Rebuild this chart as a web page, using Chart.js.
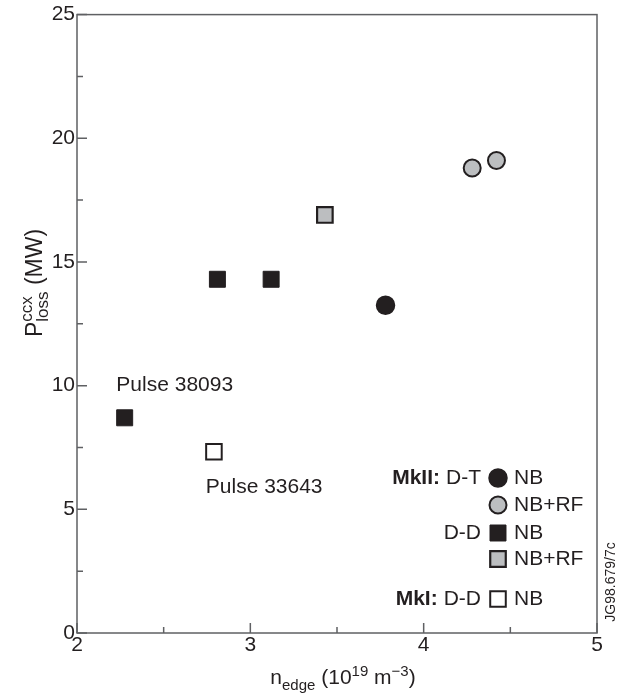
<!DOCTYPE html>
<html>
<head>
<meta charset="utf-8">
<script src="https://cdn.jsdelivr.net/npm/chart.js@4.4.0/dist/chart.umd.min.js"></script>
<style>
  html, body { margin: 0; padding: 0; background: #fff; }
  #wrap { width: 618px; height: 694px; }
</style>
</head>
<body>
<div id="wrap"><canvas id="chart" width="618" height="694"></canvas></div>
<script>
// MkII D-T, NB only
var dtNbX = [3.78];
var dtNbY = [13.25];
// MkII D-T, NB+RF
var dtRfX = [4.28, 4.42];
var dtRfY = [18.8, 19.1];
// MkII D-D, NB only (first one is pulse 38093)
var ddNbX = [2.275, 2.81, 3.12];
var ddNbY = [8.7, 14.3, 14.3];
// MkII D-D, NB+RF
var ddRfX = [3.43];
var ddRfY = [16.9];
// MkI D-D, NB (pulse 33643)
var mk1X = [2.79];
var mk1Y = [7.33];

var xTicks = [2, 3, 4, 5];
var xMinor = [2.5, 3.5, 4.5];
var yTicks = [0, 5, 10, 15, 20, 25];
var yMinor = [2.5, 7.5, 12.5, 17.5, 22.5];

var pulseLabels = ["Pulse 38093", "Pulse 33643"];
var pulseX = [2.227, 2.743];
var pulseY = [9.79, 5.64];

var FONT = "'Liberation Sans', Arial, Helvetica, sans-serif";
var INK = "#231f20";
var GREY = "#bcbec0";
var AXIS = "#5f6063";

function pts(xs, ys) {
  var out = [];
  for (var i = 0; i < xs.length; i++) out.push({ x: xs[i], y: ys[i] });
  return out;
}

// the five marker types
var styles = {
  dtNb: { pointStyle: "circle", radius: 9, fill: INK, border: INK, bw: 1.5 },
  dtRf: { pointStyle: "circle", radius: 8.5, fill: GREY, border: INK, bw: 2 },
  ddNb: { pointStyle: "rect", radius: 11.3, fill: INK, border: INK, bw: 1 },
  ddRf: { pointStyle: "rect", radius: 11, fill: GREY, border: INK, bw: 2.2 },
  mk1: { pointStyle: "rect", radius: 11, fill: "#ffffff", border: INK, bw: 2 }
};

function ds(label, data, st) {
  return {
    label: label,
    data: data,
    pointStyle: st.pointStyle,
    pointRadius: st.radius,
    pointBackgroundColor: st.fill,
    pointBorderColor: st.border,
    pointBorderWidth: st.bw,
    showLine: false
  };
}

function fontStr(p) {
  return (p.bold ? "bold " : "") + p.size + "px " + FONT;
}

// text with sub/superscripts, parts with stack:true don't advance the cursor
function drawRich(ctx, parts, x, y) {
  var w = 0, pending = 0;
  parts.forEach(function (p) {
    ctx.font = fontStr(p);
    var pw = ctx.measureText(p.t).width;
    if (p.stack) { pending = Math.max(pending, pw); p.adv = 0; }
    else { p.adv = Math.max(pw, pending); pending = 0; }
    w += p.adv;
  });
  var cx = x - w / 2;
  parts.forEach(function (p) {
    ctx.font = fontStr(p);
    ctx.fillText(p.t, cx, y + (p.dy || 0));
    cx += p.adv;
  });
}

function marker(ctx, st, x, y) {
  ctx.save();
  ctx.fillStyle = st.fill;
  ctx.strokeStyle = st.border;
  ctx.lineWidth = st.bw;
  ctx.beginPath();
  if (st.pointStyle === "circle") {
    ctx.arc(x, y, st.radius, 0, Math.PI * 2);
  } else {
    var s = st.radius * Math.SQRT1_2;
    ctx.rect(x - s, y - s, 2 * s, 2 * s);
  }
  ctx.fill();
  ctx.stroke();
  ctx.restore();
}

var framePlugin = {
  id: "frame",
  beforeDatasetsDraw: function (chart) {
    var ctx = chart.ctx, a = chart.chartArea;
    var xs = chart.scales.x, ys = chart.scales.y;
    ctx.save();
    ctx.strokeStyle = AXIS;
    ctx.lineWidth = 1.5;
    ctx.strokeRect(a.left, a.top, a.right - a.left, a.bottom - a.top);
    ctx.beginPath();
    xTicks.forEach(function (v) {
      var px = xs.getPixelForValue(v);
      ctx.moveTo(px, a.bottom); ctx.lineTo(px, a.bottom - 10);
    });
    xMinor.forEach(function (v) {
      var px = xs.getPixelForValue(v);
      ctx.moveTo(px, a.bottom); ctx.lineTo(px, a.bottom - 6);
    });
    yTicks.forEach(function (v) {
      var py = ys.getPixelForValue(v);
      ctx.moveTo(a.left, py); ctx.lineTo(a.left + 10, py);
    });
    yMinor.forEach(function (v) {
      var py = ys.getPixelForValue(v);
      ctx.moveTo(a.left, py); ctx.lineTo(a.left + 6, py);
    });
    ctx.stroke();
    ctx.restore();
  },
  afterDraw: function (chart) {
    var ctx = chart.ctx, a = chart.chartArea;
    var xs = chart.scales.x, ys = chart.scales.y;
    ctx.save();
    ctx.fillStyle = INK;
    ctx.textBaseline = "alphabetic";

    // x axis title
    drawRich(ctx, [
      { t: "n", size: 21 },
      { t: "edge", size: 15, dy: 6 },
      { t: " (10", size: 21 },
      { t: "19", size: 15, dy: -8 },
      { t: " m", size: 21 },
      { t: "\u22123", size: 15, dy: -8 },
      { t: ")", size: 21 }
    ], (a.left + a.right) / 2 + 6, 684);

    // y axis title
    ctx.save();
    ctx.translate(42, 283);
    ctx.rotate(-Math.PI / 2);
    drawRich(ctx, [
      { t: "P", size: 23 },
      { t: "ccx", size: 17, dy: -10, stack: true },
      { t: "loss", size: 17, dy: 6 },
      { t: " (MW)", size: 23 }
    ], 0, 0);
    ctx.restore();

    // pulse annotations
    ctx.font = "21px " + FONT;
    ctx.textAlign = "left";
    for (var i = 0; i < pulseLabels.length; i++) {
      ctx.fillText(pulseLabels[i], xs.getPixelForValue(pulseX[i]), ys.getPixelForValue(pulseY[i]));
    }

    // legend inside the plot
    var mx = a.right - 99;
    var rows = [
      { dy: -155, group: "MkII:", cond: "D-T", st: styles.dtNb, text: "NB" },
      { dy: -128, group: "", cond: "", st: styles.dtRf, text: "NB+RF" },
      { dy: -100, group: "", cond: "D-D", st: styles.ddNb, text: "NB" },
      { dy: -74, group: "", cond: "", st: styles.ddRf, text: "NB+RF" },
      { dy: -34, group: "MkI:", cond: "D-D", st: styles.mk1, text: "NB" }
    ];
    ctx.textBaseline = "middle";
    rows.forEach(function (r) {
      var y = a.bottom + r.dy;
      marker(ctx, r.st, mx, y);
      ctx.font = "21px " + FONT;
      ctx.textAlign = "left";
      ctx.fillText(r.text, mx + 16, y);
      ctx.textAlign = "right";
      var right = mx - 17;
      if (r.cond) {
        ctx.fillText(r.cond, right, y);
        right -= ctx.measureText(r.cond).width + 6;
      }
      if (r.group) {
        ctx.font = "bold 21px " + FONT;
        ctx.fillText(r.group, right, y);
      }
    });

    // figure reference code
    ctx.save();
    ctx.translate(611, 582);
    ctx.rotate(-Math.PI / 2);
    ctx.font = "14px " + FONT;
    ctx.textAlign = "center";
    ctx.fillText("JG98.679/7c", 0, 0);
    ctx.restore();

    ctx.restore();
  }
};

var ctx = document.getElementById("chart").getContext("2d");
var myChart = new Chart(ctx, {
  type: "scatter",
  data: {
    datasets: [
      ds("MkII D-T NB", pts(dtNbX, dtNbY), styles.dtNb),
      ds("MkII D-T NB+RF", pts(dtRfX, dtRfY), styles.dtRf),
      ds("MkII D-D NB", pts(ddNbX, ddNbY), styles.ddNb),
      ds("MkII D-D NB+RF", pts(ddRfX, ddRfY), styles.ddRf),
      ds("MkI D-D NB", pts(mk1X, mk1Y), styles.mk1)
    ]
  },
  options: {
    responsive: false,
    animation: false,
    layout: { padding: { top: 13, right: 21, left: 0, bottom: 0 } },
    plugins: { legend: { display: false }, tooltip: { enabled: false } },
    scales: {
      x: {
        type: "linear",
        min: 2,
        max: 5,
        afterFit: function (s) { s.height = 61; },
        afterBuildTicks: function (s) { s.ticks = xTicks.map(function (v) { return { value: v }; }); },
        grid: { display: false, drawTicks: false },
        border: { display: false },
        ticks: { color: INK, font: { size: 21, family: FONT }, padding: 0, maxRotation: 0 }
      },
      y: {
        min: 0,
        max: 25,
        afterFit: function (s) { s.width = 77; },
        afterBuildTicks: function (s) { s.ticks = yTicks.map(function (v) { return { value: v }; }); },
        grid: { display: false, drawTicks: false },
        border: { display: false },
        ticks: { color: INK, font: { size: 21, family: FONT }, padding: 2 }
      }
    }
  },
  plugins: [framePlugin]
});
</script>
</body>
</html>
